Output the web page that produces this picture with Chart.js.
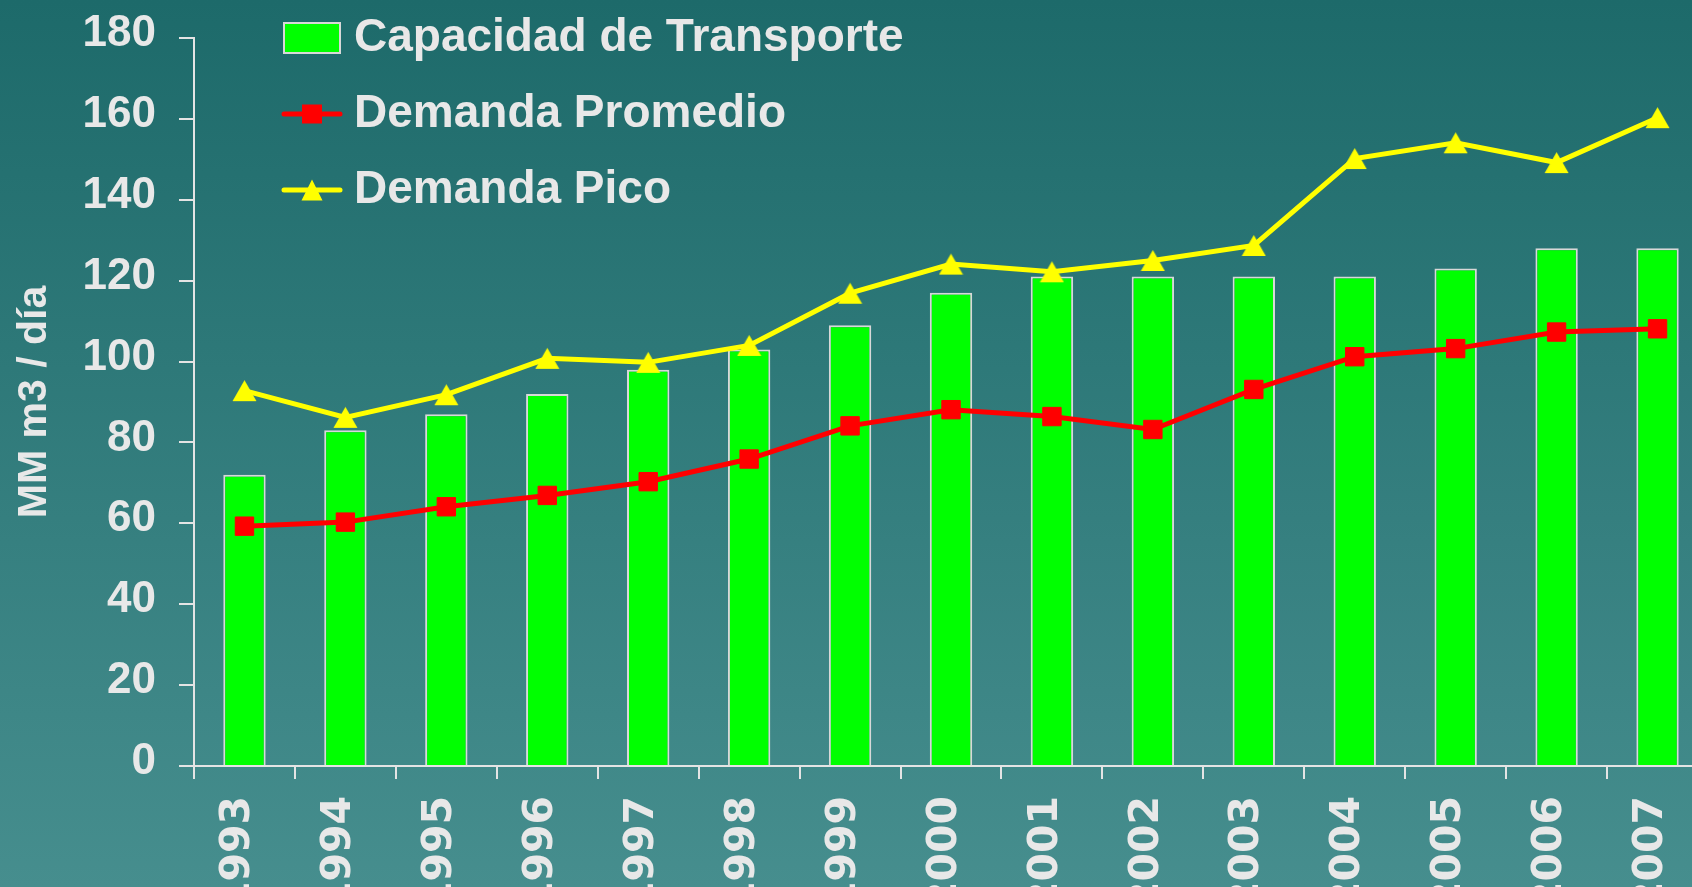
<!DOCTYPE html>
<html>
<head>
<meta charset="utf-8">
<script src="https://cdn.jsdelivr.net/npm/chart.js@4.4.1/dist/chart.umd.min.js"></script>
<style>
html,body{margin:0;padding:0;width:1692px;height:887px;overflow:hidden;
  background:linear-gradient(to bottom,#1d6a6a 0%,#468e8e 100%);}
#wrap{position:absolute;left:0;top:0;width:1692px;height:887px;overflow:hidden;}
canvas{display:block;}
</style>
</head>
<body>
<div id="wrap"><canvas id="c" width="1708" height="960"></canvas></div>
<script>
// ---- data ----
const years = ['1993','1994','1995','1996','1997','1998','1999','2000','2001','2002','2003','2004','2005','2006','2007'];
const capacidad = [72, 83, 87, 92, 98, 103, 109, 117, 121, 121, 121, 121, 123, 128, 128];
const promedio = [59.3, 60.3, 64.1, 66.9, 70.3, 75.9, 84.1, 88.1, 86.4, 83.2, 93.1, 101.2, 103.2, 107.3, 108.1];
const pico = [92.8, 86.2, 91.8, 100.8, 99.8, 104.0, 116.9, 124.1, 122.2, 125.0, 128.7, 150.2, 154.1, 149.2, 160.3];
const seriesNames = ['Capacidad de Transporte', 'Demanda Promedio', 'Demanda Pico'];
const yAxisTitle = 'MM m3 / día';
const yMin = 0, yMax = 180, yStep = 20;

// ---- styles ----
const TXT = '#e8e8e8';
const AX = '#e4e4e4';
const GREEN = '#00ff00', RED = '#ff0000', YELLOW = '#ffff00';
const ARIAL = "'Liberation Sans', Arial, sans-serif";

function mk(w, h, draw) {
  const c = document.createElement('canvas');
  c.width = w; c.height = h;
  draw(c.getContext('2d'));
  return c;
}
function tri(ctx, cx, cy, w, h, color) {
  ctx.beginPath();
  ctx.moveTo(cx, cy - h / 2);
  ctx.lineTo(cx + w / 2, cy + h / 2);
  ctx.lineTo(cx - w / 2, cy + h / 2);
  ctx.closePath();
  ctx.fillStyle = color;
  ctx.fill();
}
const triPoint = mk(25, 23, ctx => tri(ctx, 12.5, 11.5, 24, 21, YELLOW));
const iconBar = mk(58, 32, ctx => {
  ctx.fillStyle = GREEN; ctx.fillRect(1, 1, 56, 30);
  ctx.strokeStyle = '#d8d8d8'; ctx.lineWidth = 2; ctx.strokeRect(1, 1, 56, 30);
});
const iconRed = mk(62, 24, ctx => {
  ctx.strokeStyle = RED; ctx.lineWidth = 5; ctx.lineCap = 'round';
  ctx.beginPath(); ctx.moveTo(3, 12); ctx.lineTo(59, 12); ctx.stroke();
  ctx.fillStyle = RED; ctx.fillRect(21, 2.5, 20, 19);
});
const iconYellow = mk(62, 24, ctx => {
  ctx.strokeStyle = YELLOW; ctx.lineWidth = 5; ctx.lineCap = 'round';
  ctx.beginPath(); ctx.moveTo(3, 12); ctx.lineTo(59, 12); ctx.stroke();
  tri(ctx, 31, 12, 21, 21, YELLOW);
});
const icons = [iconBar, iconRed, iconYellow];

const legendPlace = {
  id: 'legendPlace',
  beforeDraw(chart) {
    const l = chart.legend;
    if (!l) return;
    l.left = 263; l.top = -15; l.right = 1300; l.bottom = 420;
    l.width = l.right - l.left; l.height = l.bottom - l.top;
  }
};

new Chart(document.getElementById('c'), {
  data: {
    labels: years,
    datasets: [
      { type: 'bar', label: seriesNames[0], data: capacidad,
        backgroundColor: GREEN, borderColor: '#d8d8d8', borderWidth: 2,
        barPercentage: 0.42, categoryPercentage: 1, order: 3 },
      { type: 'line', label: seriesNames[1], data: promedio,
        borderColor: RED, borderWidth: 5, tension: 0, fill: false,
        pointStyle: 'rect', pointRadius: 13, pointBackgroundColor: RED,
        pointBorderColor: RED, pointBorderWidth: 1, order: 1 },
      { type: 'line', label: seriesNames[2], data: pico,
        borderColor: YELLOW, borderWidth: 5, tension: 0, fill: false,
        pointStyle: triPoint, pointRadius: 12, pointBackgroundColor: YELLOW,
        pointBorderColor: YELLOW, pointBorderWidth: 0, order: 2 }
    ]
  },
  options: {
    responsive: false,
    animation: false,
    devicePixelRatio: 1,
    layout: { autoPadding: false, padding: { top: 38, left: 0, right: 0, bottom: 0 } },
    plugins: {
      tooltip: { enabled: false },
      legend: {
        position: 'chartArea',
        align: 'start',
        labels: {
          usePointStyle: true,
          pointStyleWidth: 38,
          padding: 30,
          color: TXT,
          font: { family: ARIAL, weight: 'bold', size: 46 },
          generateLabels: () => seriesNames.map((n, i) => ({
            text: n, pointStyle: icons[i], fillStyle: 'transparent',
            strokeStyle: 'transparent', lineWidth: 0, fontColor: TXT,
            hidden: false, datasetIndex: i
          }))
        }
      }
    },
    scales: {
      x: {
        type: 'category',
        offset: true,
        grid: { display: true, drawOnChartArea: false, drawTicks: true, tickLength: 13,
                color: AX, lineWidth: 2, offset: true },
        border: { display: true, color: AX, width: 2 },
        ticks: { color: TXT, font: { family: "'DejaVu Sans', sans-serif", weight: 'bold', size: 41 },
                 minRotation: 90, maxRotation: 90, autoSkip: false, padding: 17, labelOffset: -6 },
        afterFit(s) { s.height = 194; s.paddingLeft = 0; s.paddingRight = 0; }
      },
      y: {
        min: yMin, max: yMax,
        grid: { drawOnChartArea: false, drawTicks: true, tickLength: 15, color: AX, lineWidth: 2 },
        border: { display: true, color: AX, width: 2 },
        ticks: { stepSize: yStep, color: TXT, padding: 23, labelOffset: -4,
                 font: { family: ARIAL, weight: 'bold', size: 44 } },
        title: { display: true, text: yAxisTitle, color: TXT,
                 font: { family: ARIAL, weight: 'bold', size: 41 },
                 padding: { top: 10, bottom: 0 } },
        afterFit(s) { s.width = 194; s.paddingTop = 0; s.paddingBottom = 0; }
      }
    }
  },
  plugins: [legendPlace]
});
</script>
</body>
</html>
